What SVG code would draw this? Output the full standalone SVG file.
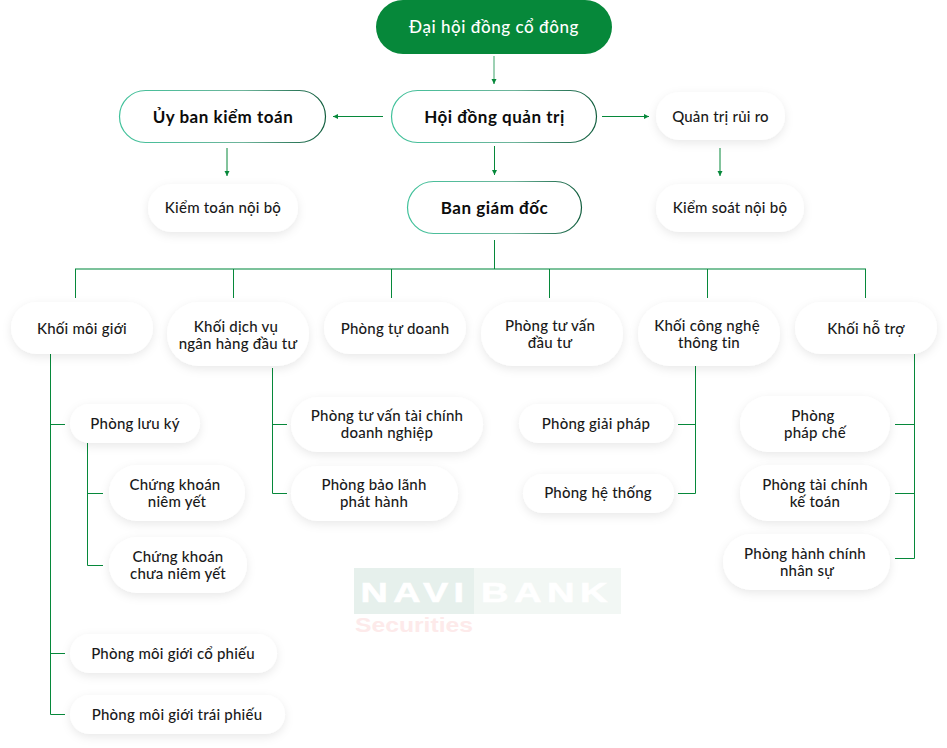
<svg xmlns="http://www.w3.org/2000/svg" width="947" height="748" viewBox="0 0 947 748">
<style>
text{font-family:"Lato","Liberation Sans",sans-serif;text-anchor:middle;fill:#1a1a1a;font-size:15px;letter-spacing:.22px;font-weight:500}
.b{font-size:17px;font-weight:700;letter-spacing:.52px;fill:#0c0c0c}
.w{fill:#fff;font-size:17px;font-weight:500;letter-spacing:.55px}
.n{fill:#fff;filter:url(#s)}
.o{fill:#fff;stroke:url(#g);stroke-width:1.2}
.c{fill:none;stroke:#06883a;stroke-width:1}
.c2{fill:none;stroke:#06883a;stroke-width:1;marker-end:url(#a)}
.wm{font-family:"Liberation Sans",sans-serif;font-size:28px;font-weight:700;letter-spacing:4px;fill:#fff;stroke:#fff;stroke-width:.6}
</style>
<defs>
<linearGradient id="g" x1="0" y1="0" x2="1" y2="0"><stop offset="0" stop-color="#3fc19a"/><stop offset=".6" stop-color="#6fb59c"/><stop offset="1" stop-color="#0f5c3c"/></linearGradient>
<filter id="s" x="-20%" y="-30%" width="140%" height="170%"><feDropShadow dx="0" dy="3" stdDeviation="5" flood-color="#000" flood-opacity=".09"/></filter>
<marker id="a" markerWidth="6" markerHeight="6" refX="5" refY="2.500" orient="auto" markerUnits="userSpaceOnUse"><path d="M0 0L5 2.500L0 5Z" fill="#06883a"/></marker>
</defs>
<g id="watermark">
<rect x="354" y="568" width="120" height="46" fill="#e6f0ec"/><rect x="474" y="568" width="147" height="46" fill="#f2f7f4"/>
<text class="wm" x="415" y="602" textLength="109" lengthAdjust="spacingAndGlyphs">NAVI</text>
<text class="wm" x="547" y="602" textLength="132" lengthAdjust="spacingAndGlyphs">BANK</text>
<text x="414" y="632" textLength="118" lengthAdjust="spacingAndGlyphs" style="font-family:'Liberation Sans',sans-serif;font-size:21px;font-weight:700;letter-spacing:0;fill:#fdeaea">Securities</text>
</g>
<g id="connectors">
<path d="M494 56V80" fill="none" stroke="#7cc29b" stroke-width="1.500"/><path class="c2" d="M494 79V84"/><path class="c2" d="M494.500 146V175"/><path class="c2" d="M383 116.500H333"/><path class="c2" d="M602 116.500H649"/><path class="c2" d="M227 148V176"/><path class="c2" d="M720 148V176"/>
<path d="M75 269H866" fill="none" stroke="#7cc29b" stroke-width="2"/>
<path class="c" d="M494.500 240V269M75.500 298V269M865.500 269V298M233.500 269V298M391.500 269V298M549.500 269V298M707.500 269V298"/>
<path class="c" d="M50.500 354V714.500H65M50.500 424.500H65M50.500 653.500H65"/>
<path class="c" d="M87.500 443V565.500H103M87.500 493.500H103"/>
<path class="c" d="M272.500 368V493.500H287M272.500 424.500H287"/>
<path class="c" d="M695.500 366V493.500H678M695.500 424.500H678"/>
<path class="c" d="M914.500 354V558.500H895M914.500 424.500H895M914.500 493.500H895"/>
</g>
<g id="n1"><rect x="376" y="0" width="236" height="54" rx="27" fill="#06883a"/><text class="w" x="494" y="33">Đại hội đồng cổ đông</text></g>
<g id="n2"><rect class="o" x="391.500" y="90.500" width="205" height="52" rx="26"/><text class="b" x="494.500" y="122.500">Hội đồng quản trị</text></g>
<g id="n3"><rect class="o" x="119.500" y="90.500" width="206" height="52" rx="26"/><text class="b" x="223" y="122.500">Ủy ban kiểm toán</text></g>
<g id="n4"><rect class="n" x="656" y="92" width="129" height="48" rx="24"/><text x="720.500" y="122">Quản trị rủi ro</text></g>
<g id="n5"><rect class="n" x="148" y="184" width="150" height="48" rx="24"/><text x="223" y="213">Kiểm toán nội bộ</text></g>
<g id="n6"><rect class="o" x="407.500" y="181.500" width="174" height="52" rx="26"/><text class="b" x="494.500" y="213.500">Ban giám đốc</text></g>
<g id="n7"><rect class="n" x="656" y="184" width="148" height="48" rx="24"/><text x="730" y="213">Kiểm soát nội bộ</text></g>
<g id="k1"><rect class="n" x="11" y="302" width="142" height="52" rx="26"/><text x="82" y="334">Khối môi giới</text></g>
<g id="k2"><rect class="n" x="167" y="302" width="142" height="64" rx="32"/><text x="236" y="332">Khối dịch vụ</text><text x="238" y="349">ngân hàng đầu tư</text></g>
<g id="k3"><rect class="n" x="324" y="302" width="142" height="52" rx="26"/><text x="395" y="334">Phòng tự doanh</text></g>
<g id="k4"><rect class="n" x="481" y="302" width="142" height="64" rx="32"/><text x="550" y="331">Phòng tư vấn</text><text x="550" y="348">đầu tư</text></g>
<g id="k5"><rect class="n" x="638" y="302" width="142" height="64" rx="32"/><text x="707" y="331">Khối công nghệ</text><text x="709" y="348">thông tin</text></g>
<g id="k6"><rect class="n" x="795" y="302" width="142" height="52" rx="26"/><text x="866" y="334">Khối hỗ trợ</text></g>
<g id="p1"><rect class="n" x="70" y="404" width="130" height="39" rx="19.500"/><text x="135" y="429">Phòng lưu ký</text></g>
<g id="p2"><rect class="n" x="109" y="465" width="136" height="56" rx="28"/><text x="175" y="490">Chứng khoán</text><text x="177" y="507">niêm yết</text></g>
<g id="p3"><rect class="n" x="109" y="537" width="138" height="56" rx="28"/><text x="178" y="562">Chứng khoán</text><text x="178" y="579">chưa niêm yết</text></g>
<g id="p4"><rect class="n" x="70" y="634" width="207" height="39" rx="19.500"/><text x="173" y="659">Phòng môi giới cổ phiếu</text></g>
<g id="p5"><rect class="n" x="70" y="695" width="215" height="39" rx="19.500"/><text x="177" y="720">Phòng môi giới trái phiếu</text></g>
<g id="p6"><rect class="n" x="291" y="397" width="192" height="55" rx="27.500"/><text x="387" y="421">Phòng tư vấn tài chính</text><text x="387" y="438">doanh nghiệp</text></g>
<g id="p7"><rect class="n" x="291" y="466" width="167" height="55" rx="27.500"/><text x="374" y="490">Phòng bảo lãnh</text><text x="374" y="507">phát hành</text></g>
<g id="p8"><rect class="n" x="519" y="404" width="155" height="39" rx="19.500"/><text x="596" y="429">Phòng giải pháp</text></g>
<g id="p9"><rect class="n" x="523" y="474" width="151" height="39" rx="19.500"/><text x="598" y="498">Phòng hệ thống</text></g>
<g id="p10"><rect class="n" x="740" y="396" width="150" height="56" rx="28"/><text x="813" y="421">Phòng</text><text x="815" y="438">pháp chế</text></g>
<g id="p11"><rect class="n" x="740" y="465" width="150" height="56" rx="28"/><text x="815" y="490">Phòng tài chính</text><text x="815" y="507">kế toán</text></g>
<g id="p12"><rect class="n" x="723" y="534" width="167" height="56" rx="28"/><text x="805" y="559">Phòng hành chính</text><text x="807" y="576">nhân sự</text></g>
</svg>
